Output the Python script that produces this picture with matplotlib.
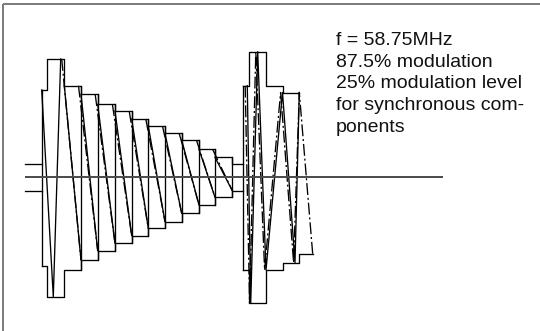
import matplotlib
matplotlib.use("Agg")
import matplotlib.pyplot as plt

# ---- data (time in px-units along the axis, amplitude relative to the axis) ----
# blanking level before the burst
blank_x = [25.0, 41.7]
blank_top = 13.0
blank_bot = -13.7

# left burst: staircase of decreasing carrier amplitude
left_edges = [41.7, 47.3, 64.3, 81.0, 97.7, 115.0, 131.7, 148.3, 165.0, 181.7, 199.0, 215.0, 232.3, 242.7]
left_top = [87.0, 118.0, 91.3, 82.7, 72.7, 66.0, 58.0, 51.0, 43.7, 37.0, 27.7, 19.7, 13.0]
left_bot = [-88.7, -119.7, -93.0, -83.0, -73.7, -66.3, -58.7, -51.3, -44.7, -36.3, -28.0, -20.3, -13.7]

# carrier strokes inside the sync part of the left burst
sync_x = [41.7, 53.3, 60.7]
sync_y = [87.0, -119.7, 118.0]

# right burst
right_edges = [242.7, 249.0, 265.7, 282.5, 299.3, 312.7]
right_top = [91.3, 125.3, 91.3, 84.5]
right_bot = [-93.0, -126.3, -93.0, -85.5, -77.0]

# carrier zigzag of the right burst (solid) and its dash-dot companion
rz_x = [247.3, 250.7, 257.7, 266.0, 282.5, 295.0, 299.3]
rz_y = [91.3, -126.3, 125.3, -93.0, 84.5, -85.5, 84.5]
rd_x = [245.2, 249.6, 255.8, 264.6, 280.6, 293.6, 299.3, 312.7]
rd_y = [91.3, -126.3, 125.3, -93.0, 84.5, -85.5, 84.5, -77.0]

axis_x = [25.0, 443.3]

label_lines = ["f = 58.75MHz", "87.5% modulation", "25% modulation level",
               "for synchronous com-", "ponents"]

# ---- drawing ----
W, H = 540, 331
fig = plt.figure(figsize=(W / 100, H / 100), dpi=100)
ax = fig.add_axes([0, 0, 1, 1])
ax.set_xlim(0, W)
ax.set_ylim(177 - H, 177)
ax.axis("off")

LW = 0.95
K = "black"
DD = (0, (9, 2.2, 1.5, 2.2))

# frame (top and left)
ax.plot([3.3, W], [173, 173], color="#7a7a7a", lw=1.4, solid_capstyle="butt")
ax.plot([3.3, 3.3], [173, 177 - H], color="#7a7a7a", lw=1.4, solid_capstyle="butt")

# blanking level
ax.plot(blank_x, [blank_top, blank_top], color=K, lw=LW)
ax.plot(blank_x, [blank_bot, blank_bot], color=K, lw=LW)


def step_env(edges, levels):
    xs, ys = [], []
    for i, lv in enumerate(levels):
        xs += [edges[i], edges[i + 1]]
        ys += [lv, lv]
    return xs, ys


# left burst envelope
tx, ty = step_env(left_edges, left_top)
bx, by = step_env(left_edges, left_bot)
ax.plot(tx, ty, color=K, lw=LW)
ax.plot(bx, by, color=K, lw=LW)
# first edge and vertical up-strokes of the staircase
ax.plot([left_edges[0]] * 2, [left_top[0], left_bot[0]], color=K, lw=LW)
for k in range(3, len(left_top)):
    ax.plot([left_edges[k]] * 2, [left_top[k - 1], left_bot[k - 1]], color=K, lw=LW)

# sync strokes
ax.plot(sync_x, sync_y, color=K, lw=LW)
ax.plot([sync_x[-1] + 1.0, left_edges[3]], [sync_y[-1], left_bot[3]], color=K, lw=LW, linestyle=DD)

# staircase down-strokes (solid) and dash-dot companions
for k in range(2, len(left_top) - 1):
    x0, x1 = left_edges[k], left_edges[k + 1]
    ax.plot([x0, x1], [left_top[k], left_bot[k + 1]], color=K, lw=LW)
    if k >= 3:
        d = 0.15 * (left_edges[k] - left_edges[k - 1])
        ax.plot([x0 - d, x1], [left_top[k - 1], left_bot[k + 1]], color=K, lw=LW, linestyle=DD)

# right burst envelope
tx, ty = step_env(right_edges[:len(right_top) + 1], right_top)
bx, by = step_env(right_edges, right_bot)
ax.plot(tx, ty, color=K, lw=LW)
ax.plot(bx, by, color=K, lw=LW)
ax.plot([right_edges[0]] * 2, [right_top[0], right_bot[0]], color=K, lw=LW)

# right burst carrier
ax.plot(rz_x, rz_y, color=K, lw=LW)
ax.plot(rd_x, rd_y, color=K, lw=LW, linestyle=DD)

# zero axis
ax.plot(axis_x, [0, 0], color="#4a4a4a", lw=1.4, solid_capstyle="butt")

# annotation
for i, line in enumerate(label_lines):
    ax.text(335.5, 177 - (45.0 + 21.7 * i), line, family="Liberation Sans",
            fontsize=14, color="#111111", va="baseline", ha="left")

fig.savefig("out.png", dpi=100)
